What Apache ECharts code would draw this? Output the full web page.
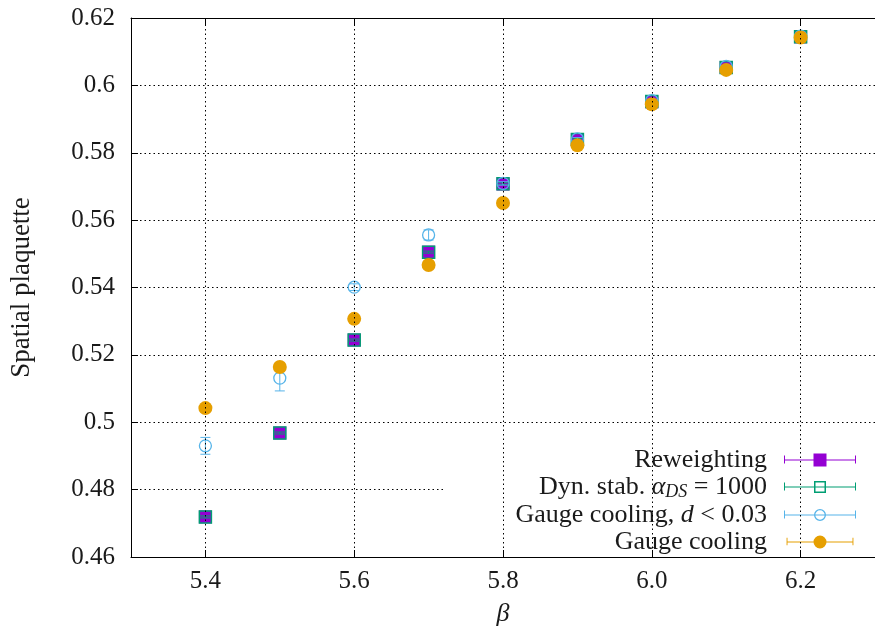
<!DOCTYPE html>
<html>
<head>
<meta charset="utf-8">
<script src="https://cdn.jsdelivr.net/npm/echarts@6/dist/echarts.min.js"></script>
<style>
  html, body { margin: 0; padding: 0; background: #fff; }
  #chart { width: 875px; height: 633px; }
</style>
</head>
<body>
<div id="chart"></div>
<script>
// Coupling values on the horizontal axis
const betas = [5.4, 5.5, 5.6, 5.7, 5.8, 5.9, 6.0, 6.1, 6.2];

// Spatial plaquette expectation values and their errors
const reweighting    = [0.4719, 0.4968, 0.5244, 0.5505, 0.5707, 0.5838, 0.5951, 0.6053, 0.6144];
const reweightingErr = [0.0004, 0.0004, 0.0004, 0.0004, 0.0003, 0.0003, 0.0003, 0.0003, 0.0003];
const dynStab        = [0.4719, 0.4968, 0.5244, 0.5505, 0.5708, 0.5839, 0.5952, 0.6053, 0.6144];
const dynStabErr     = [0.0003, 0.0003, 0.0003, 0.0003, 0.0003, 0.0003, 0.0003, 0.0003, 0.0003];
const coolingCut     = [0.4930, 0.5131, 0.5401, 0.5556, 0.5709, 0.5841, 0.5955, 0.6056, 0.6146];
const coolingCutErr  = [0.0025, 0.0038, 0.0010, 0.0015, 0.0005, 0.0004, 0.0004, 0.0003, 0.0003];
const cooling        = [0.5042, 0.5164, 0.5307, 0.5467, 0.5651, 0.5822, 0.5944, 0.6046, 0.6142];
const coolingErr     = [0.0003, 0.0003, 0.0003, 0.0003, 0.0003, 0.0003, 0.0003, 0.0003, 0.0003];

// Axis tick values
const xTicks = [5.4, 5.6, 5.8, 6.0, 6.2];

const FONT = 'Liberation Serif';
const TEXT = '#1a1a1a';

const seriesDefs = [
  { name: 'Reweighting', color: '#9400d3', marker: 'squareFilled', vals: reweighting, errs: reweightingErr },
  { name: 'Dyn. stab. aDS = 1000', color: '#009e73', marker: 'squareOpen', vals: dynStab, errs: dynStabErr },
  { name: 'Gauge cooling, d < 0.03', color: '#56b4e9', marker: 'circleOpen', vals: coolingCut, errs: coolingCutErr },
  { name: 'Gauge cooling', color: '#e69f00', marker: 'circleFilled', vals: cooling, errs: coolingErr }
];

const legendLabels = {
  'Reweighting': 'Reweighting',
  'Dyn. stab. aDS = 1000': 'Dyn. stab. {m|α}{s|DS} = 1000',
  'Gauge cooling, d < 0.03': 'Gauge cooling, {m|d} < 0.03',
  'Gauge cooling': 'Gauge cooling'
};

// Legend samples: error bar with caps and the point symbol in the middle
const barPath = 'M0 6.5H72V7.5H0Z M0 2.5H1V10.5H0Z M71 2.5H72V10.5H71Z ';
const legendIcons = {
  squareFilled: 'path://' + barPath + 'M29.5 0.5H42.5V13.5H29.5Z',
  squareOpen:   'path://' + barPath + 'M30 1H42V13H30Z M31.5 2.5V11.5H40.5V2.5Z',
  circleOpen:   'path://' + barPath + 'M30 7A6 6 0 1 1 42 7A6 6 0 1 1 30 7Z M31.3 7A4.7 4.7 0 1 0 40.7 7A4.7 4.7 0 1 0 31.3 7Z',
  circleFilled: 'path://' + barPath + 'M29 7A7 7 0 1 1 43 7A7 7 0 1 1 29 7Z'
};

function makeRenderer(def) {
  return function (params, api) {
    const x = api.value(0), y = api.value(1), e = api.value(2);
    const c = api.coord([x, y]);
    const lo = api.coord([x, y - e]);
    const hi = api.coord([x, y + e]);
    const cap = 5;
    const barStyle = { stroke: def.color, lineWidth: 1, fill: null };
    const children = [
      { type: 'line', shape: { x1: c[0], y1: lo[1], x2: c[0], y2: hi[1] }, style: barStyle },
      { type: 'line', shape: { x1: c[0] - cap, y1: lo[1], x2: c[0] + cap, y2: lo[1] }, style: barStyle },
      { type: 'line', shape: { x1: c[0] - cap, y1: hi[1], x2: c[0] + cap, y2: hi[1] }, style: barStyle }
    ];
    if (def.marker === 'squareFilled') {
      children.push({ type: 'rect', shape: { x: c[0] - 6.5, y: c[1] - 6.5, width: 13, height: 13 }, style: { fill: def.color } });
    } else if (def.marker === 'squareOpen') {
      children.push({ type: 'rect', shape: { x: c[0] - 6, y: c[1] - 6, width: 12, height: 12 }, style: { fill: null, stroke: def.color, lineWidth: 1.5 } });
    } else if (def.marker === 'circleOpen') {
      children.push({ type: 'circle', shape: { cx: c[0], cy: c[1], r: 6 }, style: { fill: null, stroke: def.color, lineWidth: 1.3 } });
    } else {
      children.push({ type: 'circle', shape: { cx: c[0], cy: c[1], r: 7 }, style: { fill: def.color } });
    }
    return { type: 'group', children: children };
  };
}

const dataSeries = seriesDefs.map(function (def, i) {
  return {
    type: 'custom',
    name: def.name,
    z: 3 + i * 0.1,
    itemStyle: { color: def.color },
    renderItem: makeRenderer(def),
    encode: { x: 0, y: 1 },
    data: betas.map(function (b, k) { return [b, def.vals[k], def.errs[k]]; }),
    animation: false,
    silent: true
  };
});

// Vertical dotted grid lines at the labelled β values
const gridSeries = {
  type: 'line',
  name: 'grid',
  data: [],
  z: 1,
  silent: true,
  animation: false,
  markLine: {
    silent: true,
    symbol: ['none', 'none'],
    label: { show: false },
    lineStyle: { color: '#000', width: 1, type: [1.5, 3] },
    data: xTicks.map(function (v) { return { xAxis: v }; }),
    animation: false
  }
};

const chart = echarts.init(document.getElementById('chart'), null, { renderer: 'canvas' });

chart.setOption({
  backgroundColor: '#fff',
  animation: false,
  textStyle: { fontFamily: FONT, color: TEXT },
  grid: { left: 128, right: -11, top: 18, bottom: 76, containLabel: false },
  xAxis: [
    {
      type: 'value', min: 5.3, max: 6.3, z: 3,
      name: 'β', nameLocation: 'middle', nameGap: 44,
      nameTextStyle: { fontFamily: FONT, fontSize: 26, fontStyle: 'italic', color: TEXT },
      axisLine: { show: true, onZero: false, lineStyle: { color: '#000', width: 1 } },
      axisTick: { show: true, inside: true, length: 7, customValues: xTicks, lineStyle: { color: '#000' } },
      axisLabel: { customValues: xTicks, margin: 12, fontFamily: FONT, fontSize: 25, color: TEXT,
                   formatter: function (v) { return v.toFixed(1); } },
      splitLine: { show: false }
    },
    {
      type: 'value', position: 'top', min: 5.3, max: 6.3, z: 3,
      axisLine: { show: true, onZero: false, lineStyle: { color: '#000', width: 1 } },
      axisTick: { show: true, inside: true, length: 7, customValues: xTicks, lineStyle: { color: '#000' } },
      axisLabel: { show: false },
      splitLine: { show: false }
    }
  ],
  yAxis: {
    type: 'value', min: 0.46, max: 0.62, interval: 0.02, z: 0,
    name: 'Spatial plaquette', nameLocation: 'middle', nameGap: 96,
    nameTextStyle: { fontFamily: FONT, fontSize: 27, color: TEXT },
    axisLine: { show: true, onZero: false, lineStyle: { color: '#000', width: 1 } },
    axisTick: { show: true, inside: true, length: 7, lineStyle: { color: '#000' } },
    axisLabel: { margin: 16, fontFamily: FONT, fontSize: 25, color: TEXT,
                 formatter: function (v) { return String(parseFloat(v.toFixed(2))); } },
    splitLine: { show: true, lineStyle: { color: '#000', width: 1, type: [1.5, 3] } }
  },
  // opaque key background, as gnuplot draws it
  graphic: [{
    type: 'rect', z: 2, silent: true,
    shape: { x: 443, y: 446, width: 440, height: 109.5 },
    style: { fill: '#fff' }
  }],
  legend: {
    orient: 'vertical', align: 'right', right: 19, top: 447,
    itemWidth: 72, itemHeight: 13, itemGap: 1, padding: 0, z: 5,
    selectedMode: false,
    textStyle: {
      fontFamily: FONT, fontSize: 26, color: TEXT, padding: [0, 12, 0, 0],
      rich: {
        m: { fontFamily: FONT, fontSize: 26, fontStyle: 'italic', color: TEXT },
        s: { fontFamily: FONT, fontSize: 18, fontStyle: 'italic', color: TEXT, padding: [10, 0, 0, 0] }
      }
    },
    formatter: function (name) { return legendLabels[name]; },
    data: seriesDefs.map(function (d) { return { name: d.name, icon: legendIcons[d.marker] }; })
  },
  series: [gridSeries].concat(dataSeries)
});
</script>
</body>
</html>
